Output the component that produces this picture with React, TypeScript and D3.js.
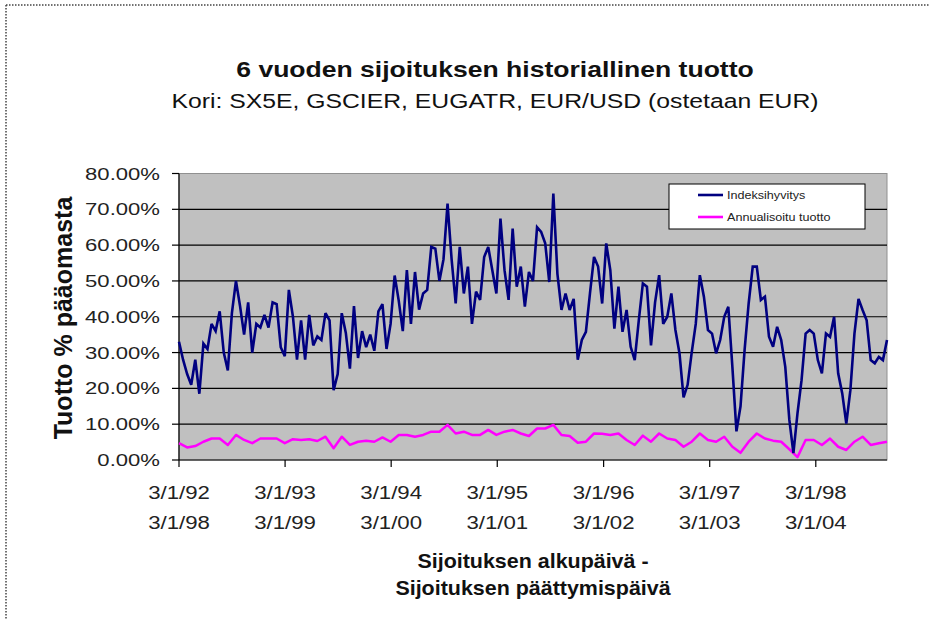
import React from "react";
import * as d3 from "d3";

// ---- data ----
const seriesNames = ["Indeksihyvitys", "Annualisoitu tuotto"];
const seriesColors = ["#000080", "#FF00FF"];
const startDate = new Date(1992, 2, 1);
const endDate = new Date(1998, 10, 1);
const indexStepDays = 14;
const annualStepDays = 28;

// Indeksihyvitys (%), every 14 days from 3/1/92
const indexReturn = [
  33, 28, 24, 21, 28, 18.5, 32.5, 31, 38, 36,
  41.5, 30, 25, 41, 50, 43, 35, 44, 30, 38,
  37, 40.5, 37, 44, 43.5, 31.5, 29, 47.5, 40, 28,
  39, 28, 40.5, 32, 34.5, 33.5, 41, 39, 19.5, 24,
  41, 35.5, 25.5, 43, 28.5, 36, 31.5, 35, 30.5, 41.5,
  43.5, 31, 38, 51.5, 44.5, 36, 53, 38, 52.5, 42,
  46.5, 47.5, 59.5, 59, 50, 56, 71.6, 56, 43.7, 59.5,
  46.5, 54, 38, 47, 44.7, 56.7, 59.5, 53, 46.5, 67.4,
  53, 44.7, 64.6, 48.4, 54, 42.8, 52.5, 50, 65, 63.7,
  60.5, 49.7, 74.4, 52, 41.9, 46.5, 41.9, 45, 28, 33.5,
  35.8, 46.5, 56.7, 54, 43.7, 60.5, 53, 36.7, 48.4, 35.8,
  41.9, 31.6, 27.9, 39, 49.3, 48.4, 32, 44, 51.6, 38,
  40, 46.5, 36.3, 29.8, 17.5, 21, 30, 38, 51.6, 45.6,
  36.3, 35.3, 29.8, 33.5, 40, 42.8, 26, 8, 15, 30.7,
  43.7, 54, 54, 44.7, 45.6, 34.4, 31.6, 37.2, 33.5, 26,
  11.2, 1.9, 13, 22.3, 35.3, 36.3, 35.3, 27.9, 24.2, 35.3,
  34.4, 40, 24.2, 18.6, 10.2, 19.5, 35.3, 45, 41.9, 39,
  27.9, 27, 28.8, 27.9, 33.5,
];

// Annualisoitu tuotto (%), every 28 days from 3/1/92
const annualReturn = [
  4.7, 3.5, 3.9, 5.1, 6.0, 6.0, 4.2, 7.0, 5.6, 4.7,
  6.0, 6.0, 6.0, 4.7, 5.8, 5.6, 5.8, 5.3, 6.5, 3.3,
  6.5, 4.2, 5.1, 5.4, 5.1, 6.3, 5.1, 7.0, 7.0, 6.5,
  7.0, 7.9, 7.9, 9.8, 7.4, 7.9, 7.0, 7.0, 8.4, 7.0,
  7.9, 8.4, 7.4, 6.7, 8.8, 8.8, 9.8, 7.0, 6.7, 4.8,
  5.1, 7.4, 7.3, 7.0, 7.4, 5.6, 4.2, 6.8, 5.1, 7.4,
  6.0, 5.6, 3.7, 5.1, 7.4, 5.6, 5.1, 6.5, 3.7, 2.0,
  5.1, 7.4, 6.0, 5.4, 5.1, 3.0, 0.8, 5.6, 5.6, 4.2,
  6.0, 3.7, 2.8, 5.1, 6.5, 4.2, 4.7, 5.1,
];

const tickYears = [1992, 1993, 1994, 1995, 1996, 1997, 1998];
const startLabels = ["3/1/92", "3/1/93", "3/1/94", "3/1/95", "3/1/96", "3/1/97", "3/1/98"];
const endLabels = ["3/1/98", "3/1/99", "3/1/00", "3/1/01", "3/1/02", "3/1/03", "3/1/04"];
const yTicks = [0, 10, 20, 30, 40, 50, 60, 70, 80];

const titleText = "6 vuoden sijoituksen historiallinen tuotto";
const subtitleText = "Kori: SX5E, GSCIER, EUGATR, EUR/USD (ostetaan EUR)";
const yTitle = "Tuotto % pääomasta";
const xTitle1 = "Sijoituksen alkupäivä -";
const xTitle2 = "Sijoituksen päättymispäivä";

// ---- layout ----
const W = 930;
const H = 619;
const plot = { left: 179, right: 887, top: 173.5, bottom: 460 };
const FONT = "'Liberation Sans', Arial, sans-serif";

function SText(props: any) {
  const { x, y, sx = 1, anchor = "middle", size, weight = "normal", fill = "#111", rotate = 0, children } = props;
  return (
    <text
      transform={`translate(${x},${y}) scale(${sx},1)${rotate ? ` rotate(${rotate})` : ""}`}
      textAnchor={anchor}
      fontFamily={FONT}
      fontSize={size}
      fontWeight={weight}
      fill={fill}
    >
      {children}
    </text>
  );
}

export default function App() {
  const x = d3.scaleTime().domain([startDate, endDate]).range([plot.left, plot.right]);
  const y = d3.scaleLinear().domain([0, 80]).range([plot.bottom, plot.top]);

  const indexPts = indexReturn.map((v, i) => ({ d: d3.timeDay.offset(startDate, i * indexStepDays), v }));
  const annualPts = annualReturn.map((v, i) => ({ d: d3.timeDay.offset(startDate, i * annualStepDays), v }));

  const indexLine = d3
    .line<{ d: Date; v: number }>()
    .x((p) => x(p.d))
    .y((p) => y(p.v));
  const annualLine = d3
    .line<{ d: Date; v: number }>()
    .x((p) => x(p.d))
    .y((p) => y(p.v));

  const tickDates = tickYears.map((yr) => new Date(yr, 2, 1));
  const fmt = d3.format(".2f");

  const legend = { x: 669, y: 184, w: 196, h: 45 };

  return (
    <svg
      width={W}
      height={H}
      style={{ position: "absolute", left: 0, top: 0, display: "block", background: "#fff" }}
    >
      <rect x={0} y={0} width={W} height={H} fill="#fff" />
      {/* dotted frame */}
      <line x1={6} y1={5} x2={W} y2={5} stroke="#444" strokeWidth={1.5} strokeDasharray="1.5,1.5" />
      <line x1={6} y1={5} x2={6} y2={H} stroke="#444" strokeWidth={1.5} strokeDasharray="1.5,1.5" />

      {/* titles */}
      <SText x={495} y={77} size={22.5} weight="bold" sx={1.18}>{titleText}</SText>
      <SText x={495} y={108} size={19.5} sx={1.27}>{subtitleText}</SText>

      {/* plot area */}
      <rect
        x={plot.left}
        y={plot.top}
        width={plot.right - plot.left}
        height={plot.bottom - plot.top}
        fill="#C0C0C0"
        stroke="#909090"
        strokeWidth={1}
      />
      {yTicks
        .filter((t) => t > 0 && t < 80)
        .map((t) => (
          <line key={t} x1={plot.left} x2={plot.right} y1={y(t)} y2={y(t)} stroke="#000" strokeWidth={1.2} />
        ))}

      {/* axes */}
      <line x1={plot.left} x2={plot.left} y1={plot.top} y2={plot.bottom} stroke="#000" strokeWidth={1.2} />
      <line x1={plot.left} x2={plot.right} y1={plot.bottom} y2={plot.bottom} stroke="#000" strokeWidth={1.2} />
      {yTicks.map((t) => (
        <g key={t}>
          <line x1={plot.left - 7} x2={plot.left} y1={y(t)} y2={y(t)} stroke="#000" strokeWidth={1.2} />
          <SText x={160} y={y(t) + 6} size={17} sx={1.3} anchor="end" fill="#222">
            {fmt(t) + "%"}
          </SText>
        </g>
      ))}
      {tickDates.map((d, i) => (
        <g key={i}>
          <line x1={x(d)} x2={x(d)} y1={plot.bottom} y2={plot.bottom + 7} stroke="#000" strokeWidth={1.2} />
          <SText x={x(d)} y={499} size={18.5} sx={1.2} fill="#222">{startLabels[i]}</SText>
          <SText x={x(d)} y={529} size={18.5} sx={1.2} fill="#222">{endLabels[i]}</SText>
        </g>
      ))}

      {/* series */}
      <path d={annualLine(annualPts) || ""} fill="none" stroke={seriesColors[1]} strokeWidth={2.5} strokeLinejoin="round" />
      <path d={indexLine(indexPts) || ""} fill="none" stroke={seriesColors[0]} strokeWidth={2.6} strokeLinejoin="miter" strokeMiterlimit={3} />

      {/* legend */}
      <rect x={legend.x} y={legend.y} width={legend.w} height={legend.h} fill="#fff" stroke="#000" strokeWidth={1} />
      {seriesNames.map((name, i) => (
        <g key={name}>
          <line
            x1={legend.x + 29}
            x2={legend.x + 54}
            y1={legend.y + 11 + i * 22}
            y2={legend.y + 11 + i * 22}
            stroke={seriesColors[i]}
            strokeWidth={2.6}
          />
          <SText x={legend.x + 58} y={legend.y + 15 + i * 22} size={10.5} sx={1.2} anchor="start" fill="#222">
            {name}
          </SText>
        </g>
      ))}

      {/* axis titles */}
      <SText x={72} y={318} size={25} weight="bold" rotate={-90} fill="#111">{yTitle}</SText>
      <SText x={533} y={568} size={19.5} weight="bold" sx={1.1}>{xTitle1}</SText>
      <SText x={533} y={595} size={19.5} weight="bold" sx={1.1}>{xTitle2}</SText>
    </svg>
  );
}
